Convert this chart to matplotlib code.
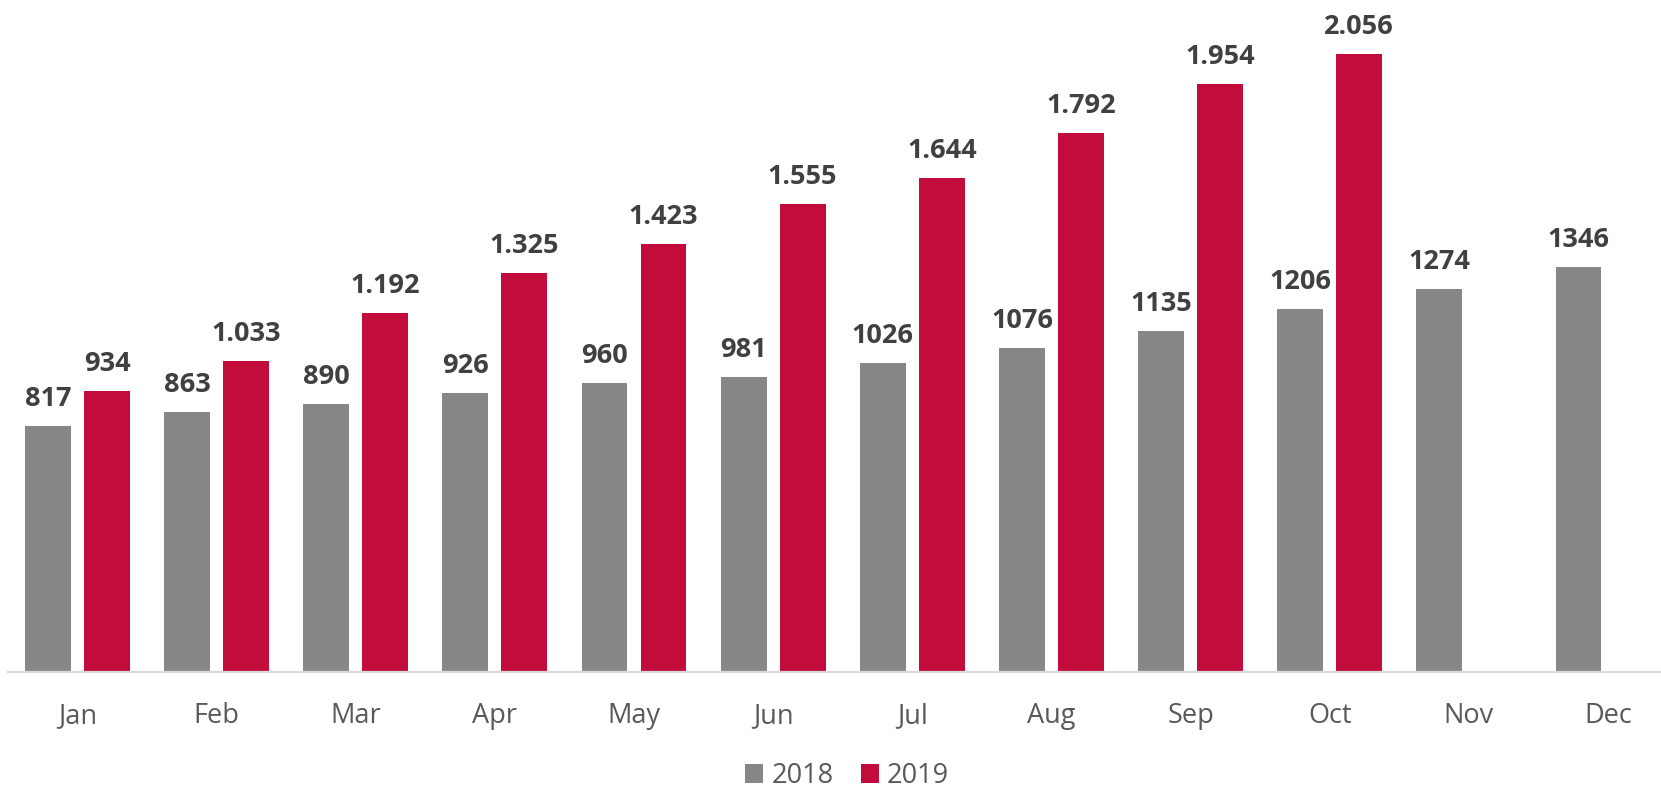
import matplotlib
matplotlib.use("Agg")
import matplotlib.pyplot as plt
import numpy as np
from matplotlib.patches import Patch

months = ["Jan", "Feb", "Mar", "Apr", "May", "Jun", "Jul", "Aug", "Sep", "Oct", "Nov", "Dec"]
values_2018 = [817, 863, 890, 926, 960, 981, 1026, 1076, 1135, 1206, 1274, 1346]
values_2019 = [934, 1033, 1192, 1325, 1423, 1555, 1644, 1792, 1954, 2056]
series_names = ["2018", "2019"]

GRAY = "#878787"
RED = "#C20C3C"
LABEL_COLOR = "#404040"
TICK_COLOR = "#595959"

plt.rcParams['font.family'] = ['Open Sans', 'DejaVu Sans']

W, H = 1661, 792
fig = plt.figure(figsize=(W / 100, H / 100), dpi=100)
ax = fig.add_axes([7.9 / W, (H - 671.7) / H, 1669.7 / W, 671.7 / H])

x = np.arange(len(months))
bw = 0.33
off = 0.212

b1 = ax.bar(x - off, values_2018, width=bw, color=GRAY, zorder=2)
x2 = np.arange(len(values_2019))
b2 = ax.bar(x2 + off, values_2019, width=bw, color=RED, zorder=2)

def fmt_dot(v):
    return f"{v:,}".replace(",", ".")

for xi, v in zip(x - off, values_2018):
    ax.annotate(str(v), (xi, v), xytext=(0, 14.4), textcoords="offset points",
                ha="center", va="baseline", fontsize=19.5, fontweight="bold",
                color=LABEL_COLOR)
for xi, v in zip(x2 + off, values_2019):
    ax.annotate(fmt_dot(v), (xi, v), xytext=(0, 14.4), textcoords="offset points",
                ha="center", va="baseline", fontsize=19.5, fontweight="bold",
                color=LABEL_COLOR)

ax.set_xlim(-0.5, len(months) - 0.5)
ax.set_ylim(0, 671.7 / 0.3006)

ax.set_xticks(x)
ax.set_xticklabels(months, fontsize=19.5, color=TICK_COLOR)
ax.tick_params(axis="x", length=0, pad=22)
ax.set_yticks([])

for s in ["top", "right", "left"]:
    ax.spines[s].set_visible(False)
ax.spines["bottom"].set_color("#D9D9D9")
ax.spines["bottom"].set_linewidth(1.6)

handles = [Patch(facecolor=GRAY, edgecolor="none"), Patch(facecolor=RED, edgecolor="none")]
fig.legend(handles, series_names, loc="center", bbox_to_anchor=(847 / W, (H - 776) / H),
           ncol=2, frameon=False, fontsize=19.5, labelcolor=TICK_COLOR,
           handlelength=0.68, handleheight=0.68, handletextpad=0.3, columnspacing=1.0)

fig.savefig("out.png", dpi=100)
